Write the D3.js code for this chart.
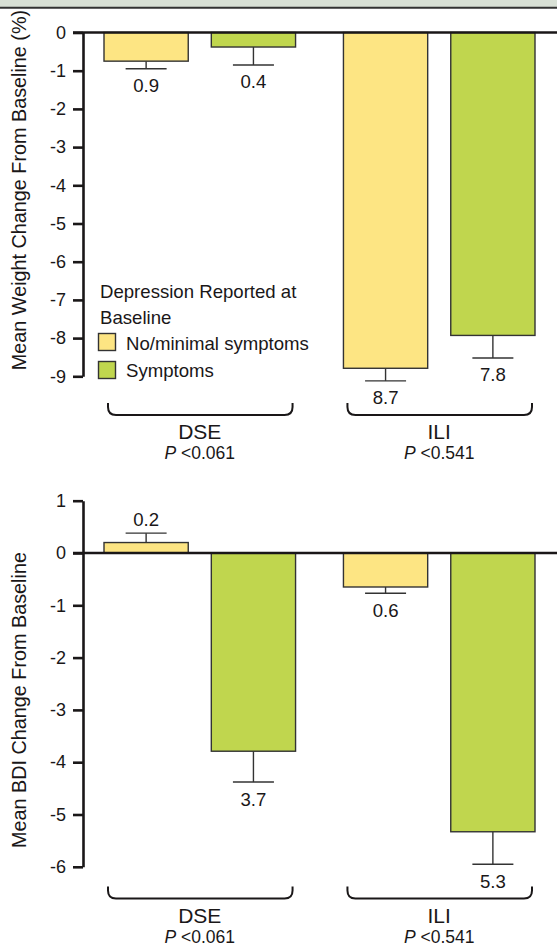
<!DOCTYPE html>
<html><head><meta charset="utf-8">
<script src="https://cdn.jsdelivr.net/npm/d3@7"></script>
<style>
html,body{margin:0;padding:0;background:#fff;}
svg{display:block;font-family:"Liberation Sans",Arial,sans-serif;}
</style></head>
<body>
<svg id="c" width="557" height="947"></svg>
<script>
// ---- data ----
const groups = ["DSE", "ILI"];
const pLabels = ["0.061", "0.541"];
const subgroups = ["No/minimal symptoms", "Symptoms"];
const legendTitle = ["Depression Reported at", "Baseline"];
const colors = ["#fde583", "#c0d64e"];

// Panel A: mean weight change from baseline (%)
const weightNoMin = [-0.75, -8.79];
const weightNoMinErr = [0.20, 0.33];
const weightSym = [-0.38, -7.93];
const weightSymErr = [0.47, 0.59];
const weightNoMinLbl = ["0.9", "8.7"];
const weightSymLbl = ["0.4", "7.8"];
const weightTicks = [0, -1, -2, -3, -4, -5, -6, -7, -8, -9];

// Panel B: mean BDI change from baseline
const bdiNoMin = [0.2, -0.65];
const bdiNoMinErr = [0.18, 0.12];
const bdiSym = [-3.79, -5.33];
const bdiSymErr = [0.59, 0.62];
const bdiNoMinLbl = ["0.2", "0.6"];
const bdiSymLbl = ["3.7", "5.3"];
const bdiTicks = [1, 0, -1, -2, -3, -4, -5, -6];

// ---- drawing ----
const svg = d3.select("#c");
const ink = "#1a1718";
const FONT = "'Liberation Sans',Arial,sans-serif";

// header band
svg.append("rect").attr("x", 0).attr("y", 0).attr("width", 557).attr("height", 7).attr("fill", "#d9e1d6");
svg.append("line").attr("x1", 0).attr("x2", 557).attr("y1", 7.7).attr("y2", 7.7).attr("stroke", "#333").attr("stroke-width", 2);

const x0 = d3.scaleBand().domain(groups).range([104, 535]).paddingInner(0.2).paddingOuter(0);
const x1 = d3.scaleBand().domain(subgroups).range([0, x0.bandwidth()]).paddingInner(0.215).paddingOuter(0);

function panel(cfg) {
  const y = d3.scaleLinear().domain(cfg.domain).range(cfg.range);
  const g = svg.append("g");
  const axisX = 83;

  const rows = [];
  groups.forEach((grp, i) => {
    subgroups.forEach((sg, j) => {
      const v = j === 0 ? cfg.noMin[i] : cfg.sym[i];
      const e = j === 0 ? cfg.noMinErr[i] : cfg.symErr[i];
      const l = j === 0 ? cfg.noMinLbl[i] : cfg.symLbl[i];
      rows.push({grp, sg, j, v, e, l});
    });
  });

  const bx = d => x0(d.grp) + x1(d.sg);
  const bw = x1.bandwidth();

  // error bars + value labels
  rows.forEach(d => {
    const end = d.v >= 0 ? d.v + d.e : d.v - d.e;
    const cx = bx(d) + bw / 2;
    g.append("line").attr("x1", cx).attr("x2", cx).attr("y1", y(d.v)).attr("y2", y(end))
      .attr("stroke", "#333").attr("stroke-width", 1.4);
    g.append("line").attr("x1", cx - 20.5).attr("x2", cx + 20.5).attr("y1", y(end)).attr("y2", y(end))
      .attr("stroke", "#333").attr("stroke-width", 1.4);
    g.append("text").attr("x", cx)
      .attr("y", d.v >= 0 ? y(end) - 7 : y(end) + 23.5)
      .attr("text-anchor", "middle").style("font-size", "18.6px").attr("fill", ink).text(d.l);
  });

  g.selectAll("rect.bar").data(rows).join("rect").attr("class", "bar")
    .attr("x", bx).attr("width", bw)
    .attr("y", d => Math.min(y(d.v), y(0)))
    .attr("height", d => Math.abs(y(d.v) - y(0)))
    .attr("fill", d => colors[d.j]).attr("stroke", "#333").attr("stroke-width", 1.4);

  // zero line
  g.append("line").attr("x1", 73).attr("x2", 557).attr("y1", y(0)).attr("y2", y(0))
    .attr("stroke", ink).attr("stroke-width", 2.6);

  // y axis
  const ax = g.append("g").attr("transform", `translate(${axisX},0)`)
    .call(d3.axisLeft(y).tickValues(cfg.ticks).tickFormat(d => String(d)).tickSize(10).tickSizeOuter(0).tickPadding(7));
  ax.attr("font-size", null).attr("font-family", null);
  ax.select(".domain").attr("stroke", ink).attr("stroke-width", 2.6);
  ax.selectAll(".tick line").attr("stroke", ink).attr("stroke-width", 2.6);
  ax.selectAll(".tick text").style("font-size", "18px").style("font-family", FONT).attr("fill", ink);

  // y label
  g.append("text").attr("transform", "rotate(-90)")
    .attr("x", -cfg.labelCenter).attr("y", 26)
    .attr("text-anchor", "middle").style("font-size", "19.8px").attr("fill", ink).text(cfg.ylabel);

  // braces + group labels
  groups.forEach((grp, i) => {
    const a = x0(grp) + 4, b = x0(grp) + x0.bandwidth() - 3;
    const t = cfg.braceTop, bt = t + 12, r = 8;
    g.append("path")
      .attr("d", `M${a},${t} L${a},${bt - r} Q${a},${bt} ${a + r},${bt} L${b - r},${bt} Q${b},${bt} ${b},${bt - r} L${b},${t}`)
      .attr("fill", "none").attr("stroke", ink).attr("stroke-width", 2);
    const cx = x0(grp) + x0.bandwidth() / 2;
    g.append("text").attr("x", cx).attr("y", bt + 24).attr("text-anchor", "middle")
      .style("font-size", "21px").attr("fill", ink).text(grp);
    const pt = g.append("text").attr("x", cx).attr("y", bt + 44).attr("text-anchor", "middle")
      .style("font-size", "17.5px").attr("fill", ink);
    pt.append("tspan").attr("font-style", "italic").text("P");
    pt.append("tspan").text(" <" + pLabels[i]);
  });
  return y;
}

panel({
  domain: [-9, 0], range: [376.3, 32.5],
  noMin: weightNoMin, noMinErr: weightNoMinErr, sym: weightSym, symErr: weightSymErr,
  noMinLbl: weightNoMinLbl, symLbl: weightSymLbl, ticks: weightTicks,
  ylabel: "Mean Weight Change From Baseline (%)", labelCenter: 190, braceTop: 403
});

panel({
  domain: [-6, 1], range: [866.8, 500.7],
  noMin: bdiNoMin, noMinErr: bdiNoMinErr, sym: bdiSym, symErr: bdiSymErr,
  noMinLbl: bdiNoMinLbl, symLbl: bdiSymLbl, ticks: bdiTicks,
  ylabel: "Mean BDI Change From Baseline", labelCenter: 700, braceTop: 886.5
});

// legend (top panel)
const leg = svg.append("g");
legendTitle.forEach((t, i) => {
  leg.append("text").attr("x", 100).attr("y", 298 + i * 26).style("font-size", "18.6px").attr("fill", ink).text(t);
});
subgroups.forEach((s, i) => {
  leg.append("rect").attr("x", 98.5).attr("y", 333.5 + i * 28).attr("width", 17).attr("height", 17)
    .attr("fill", colors[i]).attr("stroke", "#333").attr("stroke-width", 1.4);
  leg.append("text").attr("x", 126).attr("y", 349.5 + i * 27.5).style("font-size", "18.6px").attr("fill", ink).text(s);
});
</script>
</body></html>
